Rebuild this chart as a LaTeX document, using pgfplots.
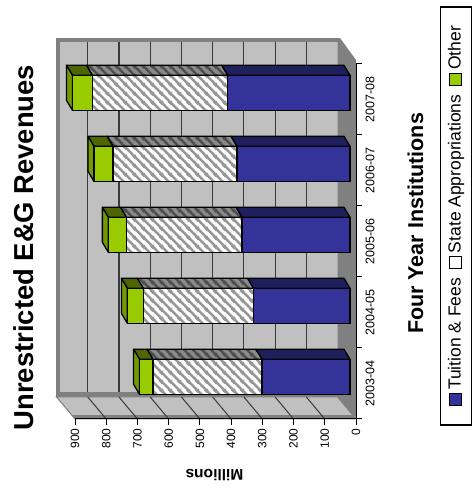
\documentclass[border=0pt]{standalone}
\usepackage{fontspec}
\setmainfont{Liberation Sans}
\usepackage{pgfplots}
\pgfplotsset{compat=1.18}
\usetikzlibrary{patterns}

\definecolor{tblue}{HTML}{333399}
\definecolor{tbluetop}{HTML}{1F1F5E}
\definecolor{tgreen}{HTML}{99CC00}
\definecolor{tgreenend}{HTML}{739900}
\definecolor{tgreentop}{HTML}{4D6600}
\definecolor{wall}{HTML}{C0C0C0}
\definecolor{wallborder}{HTML}{808080}
\definecolor{hatch}{HTML}{969696}
\definecolor{hatchtop}{HTML}{8A8A8A}
\definecolor{hatchtopline}{HTML}{4E4E4E}
\definecolor{gridc}{HTML}{3A3A3A}

\pgfdeclarepatternformonly{hstripes}{\pgfqpoint{0pt}{0pt}}{\pgfqpoint{9pt}{9pt}}{\pgfqpoint{9pt}{9pt}}{
  \pgfsetlinewidth{2.6pt}
  \pgfpathmoveto{\pgfqpoint{-2pt}{2pt}}\pgfpathlineto{\pgfqpoint{2pt}{-2pt}}
  \pgfpathmoveto{\pgfqpoint{-1pt}{10pt}}\pgfpathlineto{\pgfqpoint{10pt}{-1pt}}
  \pgfpathmoveto{\pgfqpoint{7pt}{11pt}}\pgfpathlineto{\pgfqpoint{11pt}{7pt}}
  \pgfusepath{stroke}}

\tikzset{
  face/.style={draw=black, line width=1.3pt, line join=round},
}
\pgfplotsset{chartgeom/.style={at={(356pt,70pt)}, anchor=south east,
  width=281pt, height=355pt, scale only axis, x dir=reverse,
  xmin=0, xmax=900, ymin=-0.5, ymax=4.5, clip=false}}

\newcommand{\mk}[1]{{\setlength{\fboxsep}{0pt}\setlength{\fboxrule}{1pt}\fcolorbox{black}{#1}{\rule{0pt}{11pt}\rule{11pt}{0pt}}}}

\begin{document}
\begin{tikzpicture}
\useasboundingbox (0,0) rectangle (472pt,489pt);

% walls, floor, axes and depth faces
\begin{axis}[chartgeom, axis on top,
  axis x line=bottom, axis y line=right,
  axis line style={-, black, line width=1pt},
  xtick={0,100,...,900},
  ytick={0,1,2,3,4},
  yticklabels={2003-04,2004-05,2005-06,2006-07,2007-08},
  minor ytick={-0.5,0.5,1.5,2.5,3.5,4.5},
  tick align=outside, major tick length=6pt, minor tick length=6pt,
  tick style={black, line width=1pt},
  every major y tick/.append style={draw=none},
  xticklabel style={rotate=90, anchor=east, font=\fontsize{12}{14}\selectfont},
  yticklabel style={rotate=90, anchor=north, font=\fontsize{12.5}{14}\selectfont},
  /pgf/number format/assume math mode=true,
]
% back wall
\addplot[fill=wallborder, draw=none] coordinates {(961.3,4.866) (57.5,4.866) (57.5,-0.19) (961.3,-0.19)} -- cycle;
\addplot[fill=wall, draw=none] coordinates {(948.6,4.81) (57.5,4.81) (57.5,-0.12) (948.6,-0.12)} -- cycle;
% floor (right) and side wall (bottom)
\addplot[fill=wallborder, draw=none] coordinates {(59.1,4.866) (51.1,4.866) (0,4.556) (0,-0.5) (59.1,-0.19)} -- cycle;
\addplot[fill=wall, draw=wallborder, line width=1pt] coordinates {(959.1,-0.19) (59.1,-0.19) (0,-0.5) (900,-0.5)} -- cycle;
\addplot[fill=wallborder, draw=none] coordinates {(910.2,-0.444) (12.8,-0.444) (0,-0.5) (900,-0.5)} -- cycle;
% back wall grid lines
\pgfplotsinvokeforeach{159.1,259.1,359.1,459.1,559.1,659.1,759.1,859.1}{
  \addplot[gridc, line width=1.2pt] coordinates {(#1,-0.12) (#1,4.81)};
}
% side wall grid lines
\pgfplotsinvokeforeach{100,200,300,400,500,600,700,800}{
  \addplot[gridc, line width=1pt] coordinates {(#1+59.1,-0.19) (#1,-0.5)};
}
% white backing of the hatched front faces
\addplot[fill=white, draw=none] coordinates {(301.2,-0.1525) (650.2,-0.1525) (650.2,0.3405) (301.2,0.3405)} -- cycle;
\addplot[fill=white, draw=none] coordinates {(328.2,0.8475) (681.2,0.8475) (681.2,1.3405) (328.2,1.3405)} -- cycle;
\addplot[fill=white, draw=none] coordinates {(365.2,1.8475) (735.2,1.8475) (735.2,2.3405) (365.2,2.3405)} -- cycle;
\addplot[fill=white, draw=none] coordinates {(381.2,2.8475) (778.2,2.8475) (778.2,3.3405) (381.2,3.3405)} -- cycle;
\addplot[fill=white, draw=none] coordinates {(411.2,3.8475) (844.2,3.8475) (844.2,4.3405) (411.2,4.3405)} -- cycle;
% depth faces: 2003-04
\addplot[face, fill=tbluetop] coordinates {(19.2,0.3405) (301.2,0.3405) (320.4,0.4815) (38.4,0.4815)} -- cycle;
\addplot[fill=hatchtop, draw=none] coordinates {(301.2,0.3405) (650.2,0.3405) (669.4,0.4815) (320.4,0.4815)} -- cycle;
\addplot[face, pattern=hstripes, pattern color=hatchtopline] coordinates {(301.2,0.3405) (650.2,0.3405) (669.4,0.4815) (320.4,0.4815)} -- cycle;
\addplot[face, fill=tgreentop] coordinates {(650.2,0.3405) (693.2,0.3405) (712.4,0.4815) (669.4,0.4815)} -- cycle;
\addplot[face, fill=tgreenend] coordinates {(693.2,-0.1525) (693.2,0.3405) (712.4,0.4815) (712.4,-0.0115)} -- cycle;
% 2004-05
\addplot[face, fill=tbluetop] coordinates {(19.2,1.3405) (328.2,1.3405) (347.4,1.4815) (38.4,1.4815)} -- cycle;
\addplot[fill=hatchtop, draw=none] coordinates {(328.2,1.3405) (681.2,1.3405) (700.4,1.4815) (347.4,1.4815)} -- cycle;
\addplot[face, pattern=hstripes, pattern color=hatchtopline] coordinates {(328.2,1.3405) (681.2,1.3405) (700.4,1.4815) (347.4,1.4815)} -- cycle;
\addplot[face, fill=tgreentop] coordinates {(681.2,1.3405) (732.2,1.3405) (751.4,1.4815) (700.4,1.4815)} -- cycle;
\addplot[face, fill=tgreenend] coordinates {(732.2,0.8475) (732.2,1.3405) (751.4,1.4815) (751.4,0.9885)} -- cycle;
% 2005-06
\addplot[face, fill=tbluetop] coordinates {(19.2,2.3405) (365.2,2.3405) (384.4,2.4815) (38.4,2.4815)} -- cycle;
\addplot[fill=hatchtop, draw=none] coordinates {(365.2,2.3405) (735.2,2.3405) (754.4,2.4815) (384.4,2.4815)} -- cycle;
\addplot[face, pattern=hstripes, pattern color=hatchtopline] coordinates {(365.2,2.3405) (735.2,2.3405) (754.4,2.4815) (384.4,2.4815)} -- cycle;
\addplot[face, fill=tgreentop] coordinates {(735.2,2.3405) (793.2,2.3405) (812.4,2.4815) (754.4,2.4815)} -- cycle;
\addplot[face, fill=tgreenend] coordinates {(793.2,1.8475) (793.2,2.3405) (812.4,2.4815) (812.4,1.9885)} -- cycle;
% 2006-07
\addplot[face, fill=tbluetop] coordinates {(19.2,3.3405) (381.2,3.3405) (400.4,3.4815) (38.4,3.4815)} -- cycle;
\addplot[fill=hatchtop, draw=none] coordinates {(381.2,3.3405) (778.2,3.3405) (797.4,3.4815) (400.4,3.4815)} -- cycle;
\addplot[face, pattern=hstripes, pattern color=hatchtopline] coordinates {(381.2,3.3405) (778.2,3.3405) (797.4,3.4815) (400.4,3.4815)} -- cycle;
\addplot[face, fill=tgreentop] coordinates {(778.2,3.3405) (839.2,3.3405) (858.4,3.4815) (797.4,3.4815)} -- cycle;
\addplot[face, fill=tgreenend] coordinates {(839.2,2.8475) (839.2,3.3405) (858.4,3.4815) (858.4,2.9885)} -- cycle;
% 2007-08
\addplot[face, fill=tbluetop] coordinates {(19.2,4.3405) (411.2,4.3405) (430.4,4.4815) (38.4,4.4815)} -- cycle;
\addplot[fill=hatchtop, draw=none] coordinates {(411.2,4.3405) (844.2,4.3405) (863.4,4.4815) (430.4,4.4815)} -- cycle;
\addplot[face, pattern=hstripes, pattern color=hatchtopline] coordinates {(411.2,4.3405) (844.2,4.3405) (863.4,4.4815) (430.4,4.4815)} -- cycle;
\addplot[face, fill=tgreentop] coordinates {(844.2,4.3405) (908.2,4.3405) (927.4,4.4815) (863.4,4.4815)} -- cycle;
\addplot[face, fill=tgreenend] coordinates {(908.2,3.8475) (908.2,4.3405) (927.4,4.4815) (927.4,3.9885)} -- cycle;
\end{axis}

% front faces of the stacked bars
\begin{axis}[chartgeom, hide axis, xbar stacked, bar width=35pt]
\addplot[draw=none, fill=none] coordinates {(19.2,0.094) (19.2,1.094) (19.2,2.094) (19.2,3.094) (19.2,4.094)};
% Tuition & Fees
\addplot[fill=tblue, draw=black, line width=1.3pt] coordinates {(282,0.094) (309,1.094) (346,2.094) (362,3.094) (392,4.094)};
% State Appropriations
\addplot[pattern=hstripes, pattern color=hatch, draw=black, line width=1.3pt] coordinates {(349,0.094) (353,1.094) (370,2.094) (397,3.094) (433,4.094)};
% Other
\addplot[fill=tgreen, draw=black, line width=1.3pt] coordinates {(43,0.094) (51,1.094) (58,2.094) (61,3.094) (64,4.094)};
\end{axis}

\node[rotate=90, anchor=base, font=\fontsize{27.4}{30}\selectfont\bfseries] at (33pt,241.5pt) {Unrestricted E\&G Revenues};
\node[rotate=90, anchor=base, font=\fontsize{21.5}{24}\selectfont\bfseries] at (423pt,265.5pt) {Four Year Institutions};
\node[rotate=180, anchor=base, font=\fontsize{15.5}{18}\selectfont\bfseries] at (214.5pt,19pt) {Millions};
\node[rotate=90, draw=black, line width=1.2pt, minimum width=418pt, minimum height=31pt, inner sep=0pt,
  font=\fontsize{17.5}{20}\selectfont] at (456pt,273pt)
  {\mk{tblue}\,Tuition \& Fees\enspace\mk{white}\,State Appropriations\enspace\mk{tgreen}\,Other};
\end{tikzpicture}
\end{document}
